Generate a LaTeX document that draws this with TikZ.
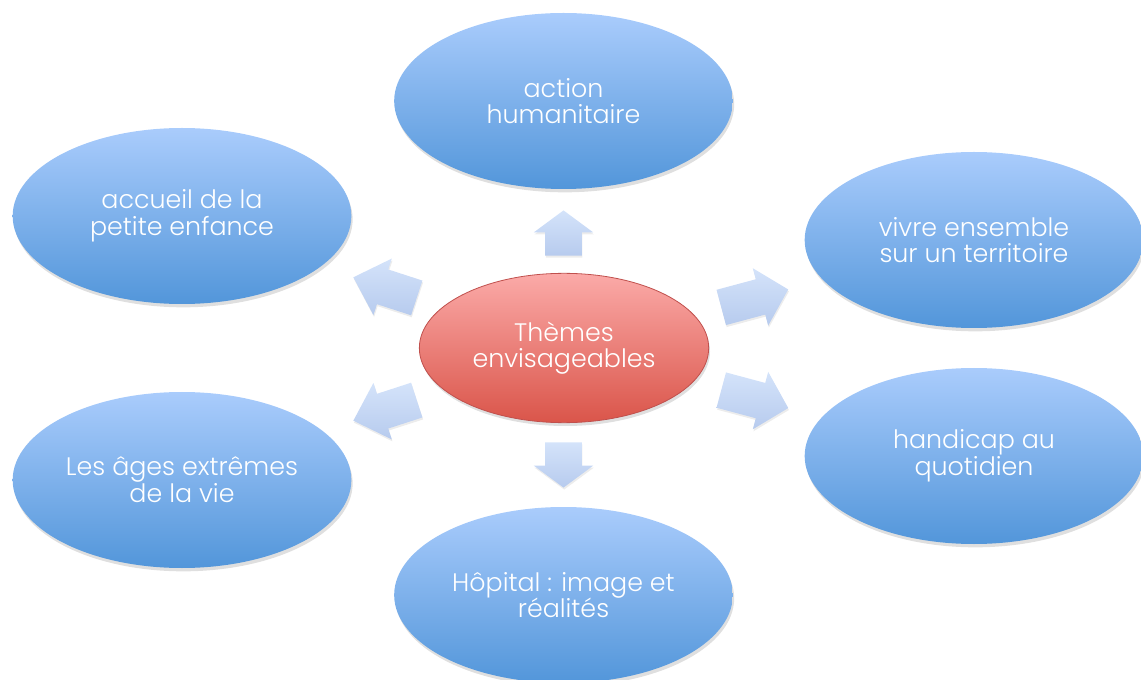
\documentclass[tikz,border=0pt]{standalone}
\usepackage{fontspec}
\setmainfont{Poppins Light}
\usetikzlibrary{shapes.geometric, shapes.arrows, shadows}

\definecolor{bubbleTop}{RGB}{170,204,252}
\definecolor{bubbleBot}{RGB}{82,150,218}
\definecolor{coreTop}{RGB}{251,170,168}
\definecolor{coreBot}{RGB}{218,85,74}
\definecolor{coreLine}{RGB}{192,80,77}
\definecolor{arrTop}{RGB}{212,227,250}
\definecolor{arrBot}{RGB}{183,203,238}

\tikzset{
  theme/.style={ellipse, inner sep=0pt, minimum width=254pt, minimum height=132pt,
    top color=bubbleTop, bottom color=bubbleBot, text=white, align=center,
    font=\fontsize{19}{20}\selectfont,
    drop shadow={opacity=0.25, shadow xshift=1pt, shadow yshift=-2.5pt}},
  core/.style={theme, minimum width=217pt, minimum height=112pt,
    top color=coreTop, bottom color=coreBot, draw=coreLine, line width=0.6pt},
  fleche/.style={single arrow, anchor=tail, inner xsep=0pt, inner ysep=13.5pt, single arrow head extend=8.6pt,
    rotate=#1, top color=arrTop, bottom color=arrBot,
    drop shadow={opacity=0.15, shadow xshift=0.5pt, shadow yshift=-1.5pt}},
}

\begin{document}
\begin{tikzpicture}[x=0.75pt,y=0.75pt,yscale=-1,xscale=1]
\useasboundingbox (0,0) rectangle (1141,680);

%Shape: Ellipse [centre]
\node [core] (themes) at (564,348) {Thèmes\\envisageables};

%Shape: Ellipse [themes around]
\node [theme] (humanitaire) at (563.5,101) {action\\humanitaire};
\node [theme] (enfance) at (182,216) {accueil de la\\petite enfance};
\node [theme] (ages) at (182,480) {Les âges extrêmes\\de la vie};
\node [theme] (territoire) at (974,240) {vivre ensemble\\sur un territoire};
\node [theme] (handicap) at (974,456) {handicap au\\quotidien};
\node [theme] (hopital) at (563.5,595) {Hôpital : image et\\réalités};

%Shape: Right Arrow [id:up/down]
\node [fleche=90, minimum height=34pt, single arrow tip angle=107] (toHumanitaire) at (563.5,256) {};
\node [fleche=-90, minimum height=34pt, single arrow tip angle=107] (toHopital) at (563.5,442) {};
%Shape: Right Arrow [id:left]
\node [fleche=162, minimum height=50pt, single arrow tip angle=88] (toEnfance) at (417,298) {};
\node [fleche=198, minimum height=50pt, single arrow tip angle=88] (toAges) at (417,400) {};
%Shape: Right Arrow [id:right]
\node [fleche=15, minimum height=52pt, single arrow tip angle=92] (toTerritoire) at (721,307.5) {};
\node [fleche=-15, minimum height=52pt, single arrow tip angle=92] (toHandicap) at (721,390) {};

\end{tikzpicture}
\end{document}
